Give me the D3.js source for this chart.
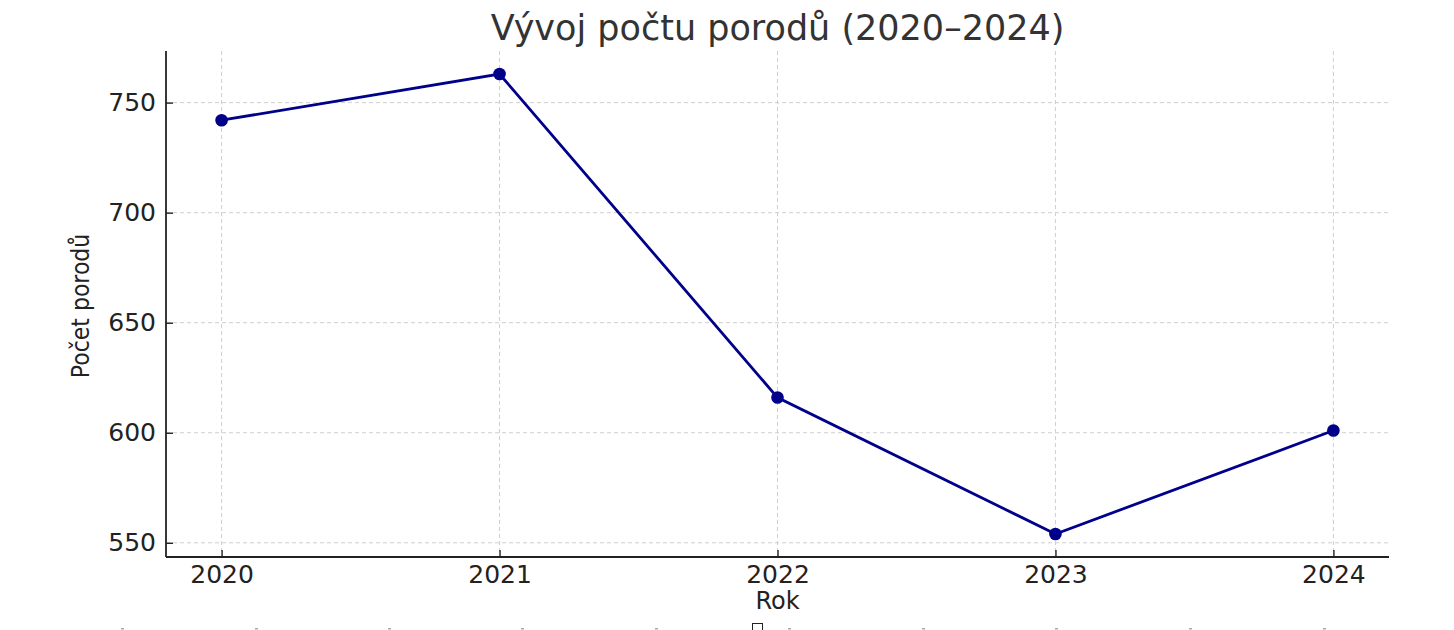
<!DOCTYPE html>
<html>
<head>
<meta charset="utf-8">
<title>Vývoj počtu porodů</title>
<script src="https://d3js.org/d3.v7.min.js"></script>
<style>
  body { margin: 0; background: #fff; }
  svg text { font-family: "DejaVu Sans", sans-serif; }
  .grid line { stroke: #cfcfcf; stroke-width: 1; stroke-dasharray: 4,3; }
</style>
</head>
<body>
<div id="chart"></div>
<script>
// data
var years = [2020, 2021, 2022, 2023, 2024];
var births = [742, 763, 616, 554, 601];
var yTicks = [550, 600, 650, 700, 750];

var W = 1454, H = 630;
var margin = {top: 51, right: 65, bottom: 73, left: 166};
var width = W - margin.left - margin.right;
var height = H - margin.top - margin.bottom;

var svg = d3.select("#chart").append("svg")
  .attr("width", W)
  .attr("height", H);

var g = svg.append("g")
  .attr("transform", "translate(" + margin.left + "," + margin.top + ")");

// matplotlib-like 5% margins
var x = d3.scaleLinear().domain([2019.8, 2024.2]).range([0, width]);
var lo = d3.min(births), hi = d3.max(births), pad = (hi - lo) * 0.05;
var y = d3.scaleLinear().domain([lo - pad, hi + pad]).range([height, 0]);

// grid
g.append("g").attr("class", "grid")
  .selectAll("line").data(years).enter().append("line")
  .attr("x1", function(d){ return x(d); })
  .attr("x2", function(d){ return x(d); })
  .attr("y1", 0).attr("y2", height);

g.append("g").attr("class", "grid")
  .selectAll("line").data(yTicks).enter().append("line")
  .attr("x1", 0).attr("x2", width)
  .attr("y1", function(d){ return y(d); })
  .attr("y2", function(d){ return y(d); });

// axes, ticks pointing inward
var xAxis = g.append("g")
  .attr("transform", "translate(0," + height + ")")
  .call(d3.axisBottom(x).tickValues(years).tickFormat(d3.format("d"))
    .tickSizeInner(-7).tickSizeOuter(0).tickPadding(8));
var yAxis = g.append("g")
  .call(d3.axisLeft(y).tickValues(yTicks)
    .tickSizeInner(-7).tickSizeOuter(0).tickPadding(10));

[xAxis, yAxis].forEach(function(a){
  a.select(".domain").attr("stroke", "#222").attr("stroke-width", 1.8);
  a.selectAll(".tick line").attr("stroke", "#222").attr("stroke-width", 1.4);
  a.selectAll(".tick text").attr("fill", "#222")
    .style("font-size", "25px").style("font-family", "DejaVu Sans");
});
// keep the bottom spine spanning the whole plot
xAxis.select(".domain").attr("d", "M0,0H" + width);
yAxis.select(".domain").attr("d", "M0," + height + "V0");

// line + markers
var pts = years.map(function(d, i){ return {year: d, v: births[i]}; });
var line = d3.line()
  .x(function(d){ return x(d.year); })
  .y(function(d){ return y(d.v); });

g.append("path")
  .datum(pts)
  .attr("fill", "none")
  .attr("stroke", "#00008b")
  .attr("stroke-width", 2.8)
  .attr("d", line);

g.selectAll("circle").data(pts).enter().append("circle")
  .attr("cx", function(d){ return x(d.year); })
  .attr("cy", function(d){ return y(d.v); })
  .attr("r", 6.3)
  .attr("fill", "#00008b");

// title and labels
svg.append("text")
  .attr("x", margin.left + width / 2)
  .attr("y", 40)
  .attr("text-anchor", "middle")
  .attr("fill", "#333")
  .style("font-size", "35px")
  .text("Vývoj počtu porodů (2020–2024)");

svg.append("text")
  .attr("x", margin.left + width / 2)
  .attr("y", 609)
  .attr("text-anchor", "middle")
  .attr("fill", "#222")
  .style("font-size", "24px")
  .text("Rok");

svg.append("text")
  .attr("transform", "translate(89," + (margin.top + height / 2 + 2) + ") rotate(-90) scale(1,1.15)")
  .attr("text-anchor", "middle")
  .attr("fill", "#222")
  .style("font-size", "22px")
  .text("Počet porodů");

// cut-off strip at the very bottom of the picture
var stripX = [121, 255, 388, 521, 655, 788, 922, 1055, 1189, 1323];
svg.selectAll(".strip").data(stripX).enter().append("rect")
  .attr("class", "strip")
  .attr("x", function(d){ return d; })
  .attr("y", 628).attr("width", 3).attr("height", 1.5)
  .attr("fill", "#aaa");
svg.append("rect")
  .attr("x", 752.5).attr("y", 623.5).attr("width", 10).attr("height", 8)
  .attr("fill", "none").attr("stroke", "#222").attr("stroke-width", 1);
</script>
</body>
</html>
